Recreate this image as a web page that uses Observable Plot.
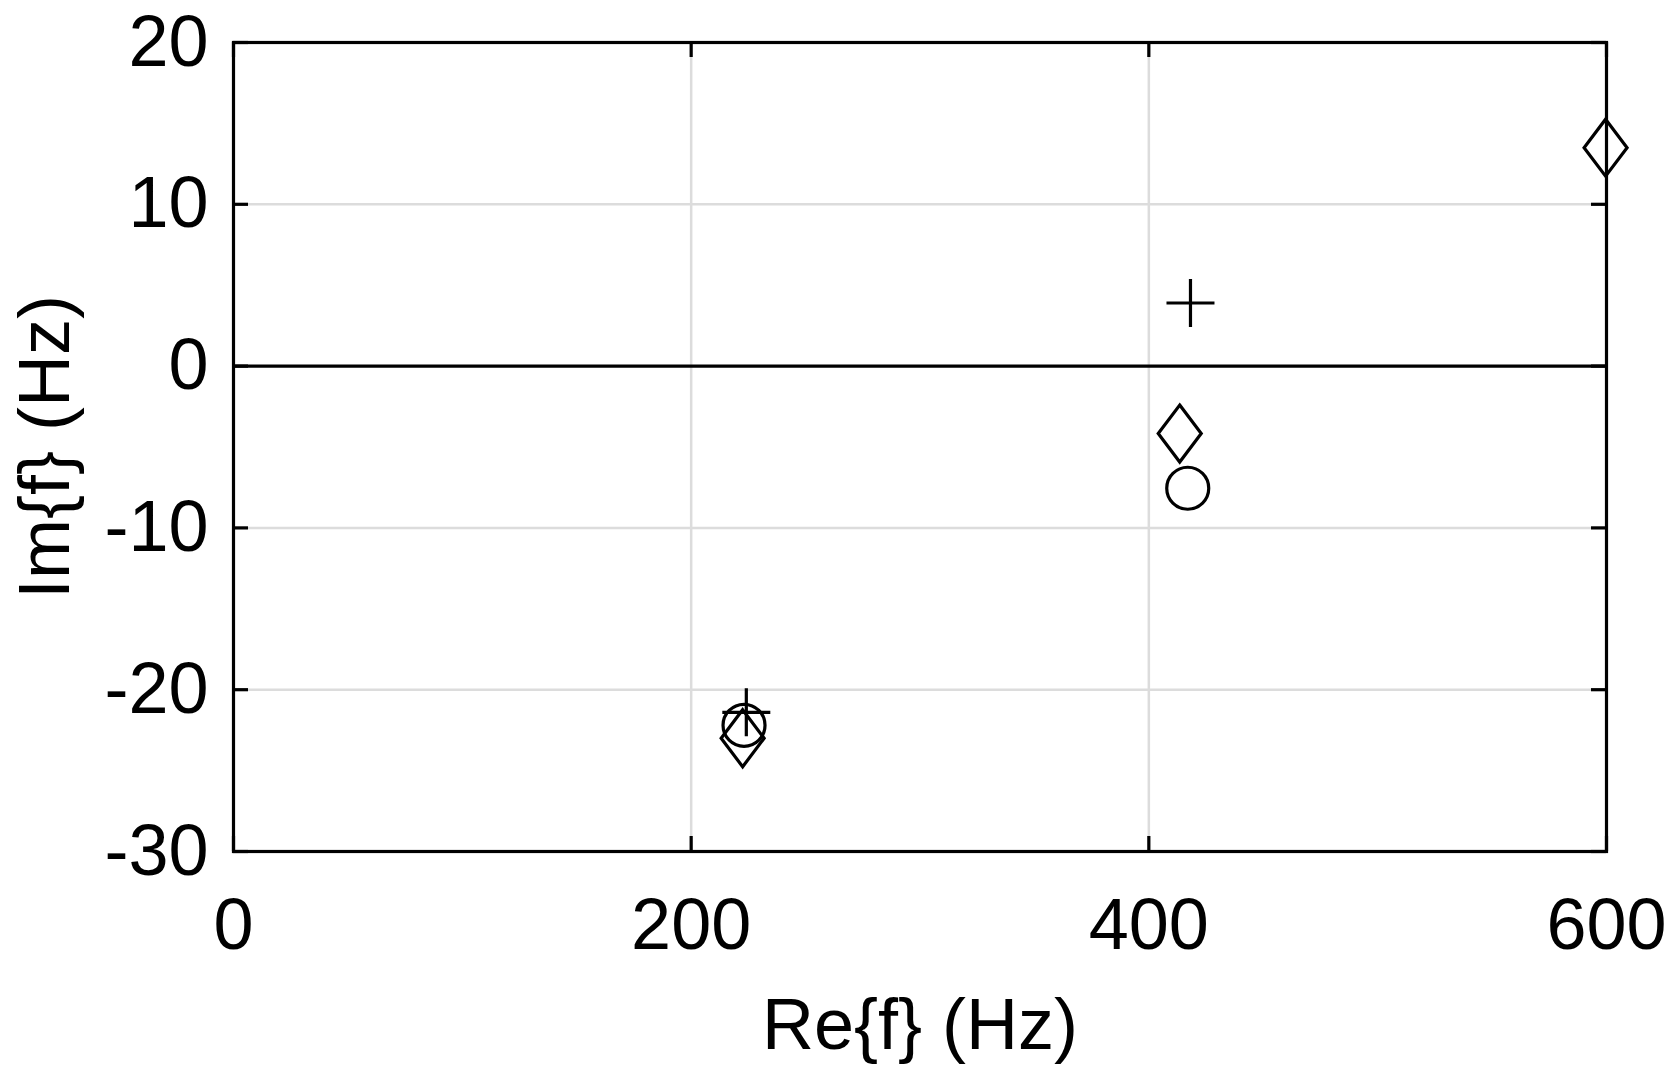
<!DOCTYPE html>
<html>
<head>
<meta charset="utf-8">
<script src="https://cdn.jsdelivr.net/npm/d3@7"></script>
<script src="https://cdn.jsdelivr.net/npm/@observablehq/plot@0.6"></script>
<style>
  html, body { margin: 0; padding: 0; background: #fff; }
  #chart svg { display: block; }
</style>
</head>
<body>
<div id="chart"></div>
<script>
// ---- data ----
const xTicks = [0, 200, 400, 600];
const yTicks = [-30, -20, -10, 0, 10, 20];
const xGrid = [200, 400];
const yGrid = [-20, -10, 10];
const xLabel = "Re{f} (Hz)";
const yLabel = "Im{f} (Hz)";

const plusRe = [224.1, 418.2];
const plusIm = [-21.4, 3.9];
const circleRe = [223.1, 417.0];
const circleIm = [-22.2, -7.55];
const diamondRe = [222.5, 413.5, 599.6];
const diamondIm = [-23.0, -4.17, 13.5];

// ---- build tables ----
const plusData = plusRe.map((re, i) => ({re, im: plusIm[i]}));
const circleData = circleRe.map((re, i) => ({re, im: circleIm[i]}));
const diamondData = diamondRe.map((re, i) => ({re, im: diamondIm[i]}));

// ---- marker shapes (style) ----
const plusSymbol = {
  draw(ctx) {
    const h = 24;
    ctx.moveTo(-h, 0); ctx.lineTo(h, 0);
    ctx.moveTo(0, -h); ctx.lineTo(0, h);
  }
};
const diamondSymbol = {
  draw(ctx) {
    const w = 21.5, h = 28.5;
    ctx.moveTo(0, -h); ctx.lineTo(w, 0); ctx.lineTo(0, h); ctx.lineTo(-w, 0); ctx.closePath();
  }
};

const W = 1677, H = 1085;
const mL = 233, mR = 71, mT = 42, mB = 234;
const innerW = W - mL - mR, innerH = H - mT - mB;
const tickLen = 15;
const fmt = d => String(d);
const lw = 3.2;

const chart = Plot.plot({
  width: W,
  height: H,
  marginLeft: mL,
  marginRight: mR,
  marginTop: mT,
  marginBottom: mB,
  style: {fontSize: "72px", fontFamily: "'Liberation Sans', Arial, sans-serif", color: "black", background: "white"},
  x: {domain: [0, 600]},
  y: {domain: [-30, 20]},
  marks: [
    Plot.ruleX(xGrid, {stroke: "#dcdcdc", strokeWidth: 2.5}),
    Plot.ruleY(yGrid, {stroke: "#dcdcdc", strokeWidth: 2.5}),
    Plot.ruleY([0], {stroke: "black", strokeWidth: lw}),
    // inward ticks
    Plot.tickY(yTicks, {y: d => d, insetRight: innerW - tickLen, stroke: "black", strokeWidth: lw}),
    Plot.tickY(yTicks, {y: d => d, insetLeft: innerW - tickLen, stroke: "black", strokeWidth: lw}),
    Plot.tickX(xTicks, {x: d => d, insetTop: innerH - tickLen, stroke: "black", strokeWidth: lw}),
    Plot.tickX(xTicks, {x: d => d, insetBottom: innerH - tickLen, stroke: "black", strokeWidth: lw}),
    Plot.frame({stroke: "black", strokeWidth: lw}),
    Plot.axisX({ticks: xTicks, tickSize: 0, tickPadding: 46, tickFormat: fmt, label: null, fontSize: 72}),
    Plot.axisY({ticks: yTicks, tickSize: 0, tickPadding: 25, tickFormat: fmt, label: null, fontSize: 72}),
    Plot.text([xLabel], {frameAnchor: "bottom", dy: 174, fontSize: 72, lineAnchor: "middle", textAnchor: "middle"}),
    Plot.text([yLabel], {frameAnchor: "left", dx: -188, rotate: -90, fontSize: 72, lineAnchor: "middle", textAnchor: "middle"}),
    Plot.dot(plusData, {x: "re", y: "im", symbol: plusSymbol, r: 24, stroke: "black", strokeWidth: lw, fill: "none"}),
    Plot.dot(circleData, {x: "re", y: "im", symbol: "circle", r: 21, stroke: "black", strokeWidth: lw, fill: "none"}),
    Plot.dot(diamondData, {x: "re", y: "im", symbol: diamondSymbol, r: 24, stroke: "black", strokeWidth: lw, fill: "none"})
  ]
});
document.getElementById("chart").appendChild(chart);
</script>
</body>
</html>
